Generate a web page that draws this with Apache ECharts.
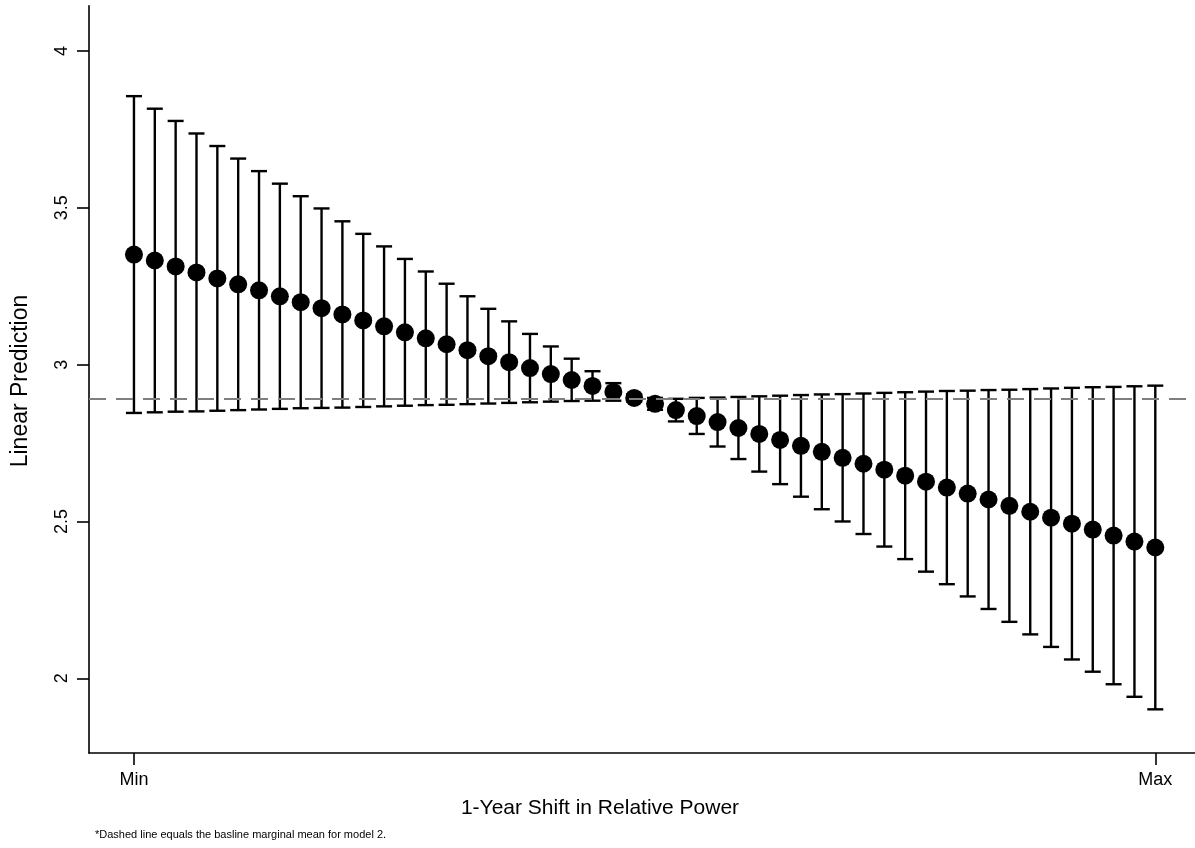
<!DOCTYPE html>
<html>
<head>
<meta charset="utf-8">
<script src="https://cdn.jsdelivr.net/npm/echarts@6/dist/echarts.min.js"></script>
<style>
html,body{margin:0;padding:0;background:#fff;}
#chart{width:1195px;height:848px;}
</style>
</head>
<body>
<div id="chart"></div>
<script>
// ---- data ----
const positions = [0,1,2,3,4,5,6,7,8,9,10,11,12,13,14,15,16,17,18,19,20,21,22,23,24,25,26,27,28,29,30,31,32,33,34,35,36,37,38,39,40,41,42,43,44,45,46,47,48,49];
const prediction = [3.351,3.332,3.313,3.294,3.275,3.256,3.237,3.218,3.199,3.180,3.160,3.141,3.122,3.103,3.084,3.065,3.046,3.027,3.008,2.989,2.970,2.951,2.932,2.913,2.894,2.875,2.855,2.836,2.817,2.798,2.779,2.760,2.741,2.722,2.703,2.684,2.665,2.646,2.627,2.608,2.589,2.570,2.550,2.531,2.512,2.493,2.474,2.455,2.436,2.417];
const upperCI = [3.856,3.816,3.777,3.737,3.697,3.657,3.617,3.577,3.537,3.498,3.457,3.417,3.377,3.337,3.297,3.258,3.218,3.178,3.138,3.098,3.058,3.019,2.979,2.941,2.906,2.894,2.891,2.894,2.895,2.897,2.899,2.901,2.903,2.905,2.906,2.908,2.910,2.912,2.914,2.916,2.917,2.919,2.920,2.922,2.924,2.926,2.928,2.929,2.931,2.933];
const lowerCI = [2.846,2.848,2.850,2.851,2.853,2.855,2.857,2.859,2.861,2.862,2.863,2.865,2.867,2.869,2.871,2.872,2.874,2.876,2.878,2.880,2.882,2.884,2.885,2.885,2.882,2.856,2.819,2.779,2.739,2.699,2.659,2.619,2.579,2.539,2.500,2.460,2.420,2.380,2.340,2.300,2.261,2.221,2.180,2.140,2.100,2.060,2.021,1.981,1.941,1.901];
const baselineMean = 2.894;
const xTickValues = [0, 49];
const xTickLabels = ['Min', 'Max'];
const yTickValues = [2, 2.5, 3, 3.5, 4];
const yTitle = 'Linear Prediction';
const xTitle = '1-Year Shift in Relative Power';
const footnote = '*Dashed line equals the basline marginal mean for model 2.';

// ---- chart ----
const FONT = '"Liberation Sans", Arial, Helvetica, sans-serif';
const chart = echarts.init(document.getElementById('chart'), null, {renderer: 'canvas'});

const pointData = positions.map((p, i) => [p, prediction[i]]);
const barData = positions.map((p, i) => [p, lowerCI[i], upperCI[i]]);

const option = {
  animation: false,
  backgroundColor: '#ffffff',
  grid: {left: 89, right: 0, top: 5.7, bottom: 95, containLabel: false},
  xAxis: {
    type: 'value',
    min: -2.157,
    max: 50.905,
    splitLine: {show: false},
    axisLine: {show: true, onZero: false, lineStyle: {color: '#000', width: 1.6}},
    axisTick: {show: true, length: 12, customValues: xTickValues, lineStyle: {color: '#000', width: 1.6}},
    axisLabel: {
      show: true, margin: 18, customValues: xTickValues,
      color: '#000', fontSize: 18, fontFamily: FONT,
      formatter: function (v) { const k = xTickValues.indexOf(v); return k >= 0 ? xTickLabels[k] : ''; }
    }
  },
  yAxis: {
    type: 'value',
    min: 1.7618,
    max: 4.1444,
    splitLine: {show: false},
    axisLine: {show: true, onZero: false, lineStyle: {color: '#000', width: 1.6}},
    axisTick: {show: true, length: 12, customValues: yTickValues, lineStyle: {color: '#000', width: 1.6}},
    axisLabel: {
      show: true, margin: 18, rotate: 90, customValues: yTickValues,
      color: '#000', fontSize: 18, fontFamily: FONT,
      formatter: function (v) { return String(v); }
    }
  },
  series: [
    {
      type: 'line',
      data: [],
      z: 1,
      silent: true,
      markLine: {
        silent: true,
        symbol: ['none', 'none'],
        label: {show: false},
        lineStyle: {color: '#7f7f7f', width: 2, type: [17, 10]},
        data: [{yAxis: baselineMean}]
      }
    },
    {
      type: 'custom',
      z: 2,
      silent: true,
      data: barData,
      encode: {x: 0, y: [1, 2]},
      renderItem: function (params, api) {
        const x = api.value(0);
        const lo = api.coord([x, api.value(1)]);
        const hi = api.coord([x, api.value(2)]);
        const half = 8;
        const style = {stroke: '#000', lineWidth: 2.4};
        return {
          type: 'group',
          children: [
            {type: 'line', shape: {x1: lo[0], y1: lo[1], x2: hi[0], y2: hi[1]}, style: style},
            {type: 'line', shape: {x1: hi[0] - half, y1: hi[1], x2: hi[0] + half, y2: hi[1]}, style: style},
            {type: 'line', shape: {x1: lo[0] - half, y1: lo[1], x2: lo[0] + half, y2: lo[1]}, style: style}
          ]
        };
      }
    },
    {
      type: 'scatter',
      z: 3,
      silent: true,
      symbol: 'circle',
      symbolSize: 18,
      itemStyle: {color: '#000', opacity: 1},
      data: pointData
    }
  ],
  graphic: [
    {
      type: 'text', x: 21, y: 381, rotation: Math.PI / 2,
      style: {text: yTitle, font: '23px ' + FONT, fill: '#000', align: 'center', verticalAlign: 'middle'}
    },
    {
      type: 'text', x: 600, y: 808,
      style: {text: xTitle, font: '21px ' + FONT, fill: '#000', align: 'center', verticalAlign: 'middle'}
    },
    {
      type: 'text', x: 95, y: 835,
      style: {text: footnote, font: '11px ' + FONT, fill: '#000', align: 'left', verticalAlign: 'middle'}
    }
  ]
};
chart.setOption(option);
</script>
</body>
</html>
